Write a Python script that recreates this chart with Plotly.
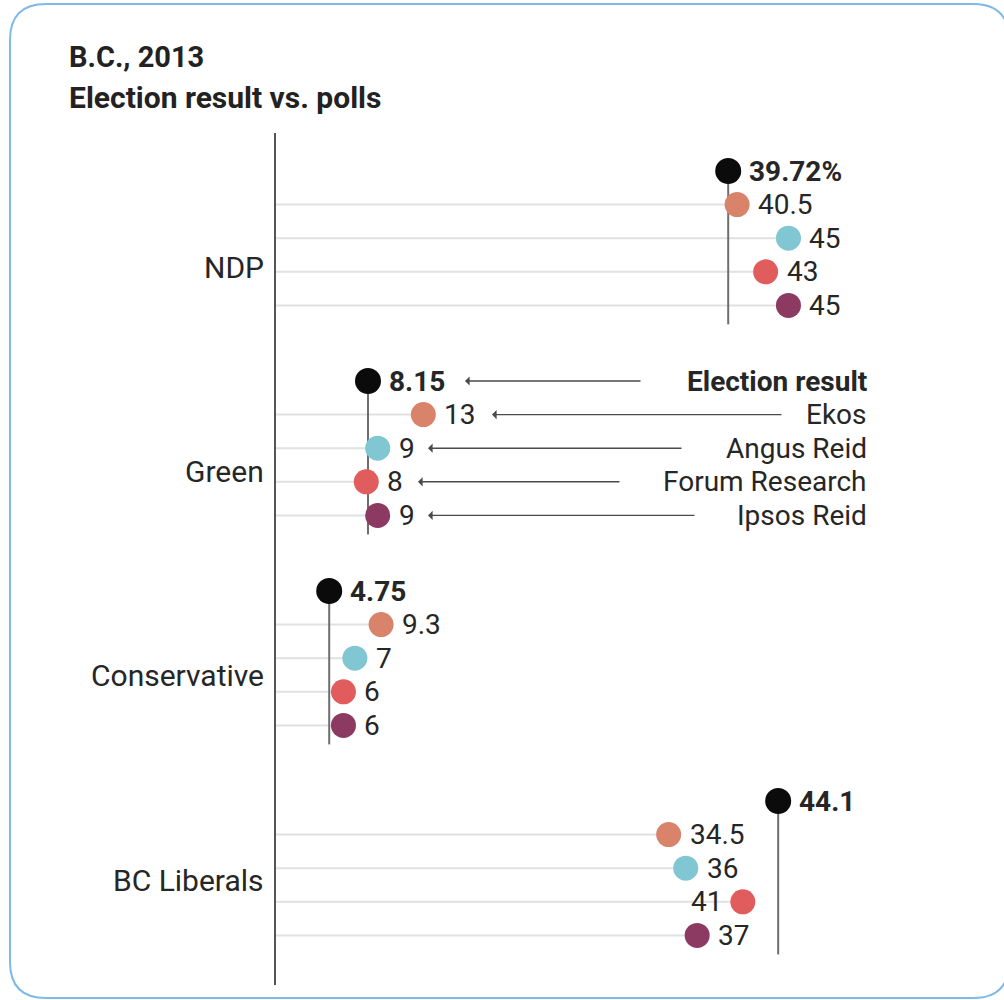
import plotly.graph_objects as go

# ---- data -------------------------------------------------------------
parties = ["NDP", "Green", "Conservative", "BC Liberals"]
series_names = ["Election result", "Ekos", "Angus Reid", "Forum Research", "Ipsos Reid"]

election = [39.72, 8.15, 4.75, 44.1]
ekos = [40.5, 13, 9.3, 34.5]
angus_reid = [45, 9, 7, 36]
forum_research = [43, 8, 6, 41]
ipsos_reid = [45, 9, 6, 37]

# ---- styling / layout constants ----------------------------------------
W, H = 1004, 1000
PX_PER_PCT = 11.41
ZERO_PX = 275
TOP = 171
GROUP_STEP = 210
ROW_STEP = 33.6
FONT = "Roboto"
TXT = "#262626"

colors = ["#0b0b0b", "#d9846a", "#80c6d3", "#e15c5c", "#8c3a62"]
series = [election, ekos, angus_reid, forum_research, ipsos_reid]


def row_y(g, r):
    return TOP + GROUP_STEP * g + ROW_STEP * r


def px(x):
    return x / W


def py(y):
    return 1 - y / H


fig = go.Figure()

# light guide lines from the axis to each poll dot
gx, gy = [], []
for r in range(1, 5):
    for g in range(len(parties)):
        gx += [0, series[r][g], None]
        gy += [row_y(g, r), row_y(g, r), None]
fig.add_trace(go.Scatter(x=gx, y=gy, mode="lines",
                         line=dict(color="#e1e1e1", width=2),
                         hoverinfo="skip", showlegend=False))

# vertical reference line at the election result of each party
vx, vy = [], []
for g in range(len(parties)):
    vx += [election[g], election[g], None]
    vy += [row_y(g, 0), row_y(g, 4) + 19, None]
fig.add_trace(go.Scatter(x=vx, y=vy, mode="lines",
                         line=dict(color="#6e6e6e", width=2),
                         hoverinfo="skip", showlegend=False))

# dots
for r, (name, vals) in enumerate(zip(series_names, series)):
    fig.add_trace(go.Scatter(
        x=vals, y=[row_y(g, r) for g in range(len(parties))],
        mode="markers", name=name,
        marker=dict(color=colors[r], size=26 if r == 0 else 25, line=dict(width=0)),
        showlegend=False))

annotations = []

# value labels next to the dots
for r, vals in enumerate(series):
    for g, v in enumerate(vals):
        label = f"{v:g}" + ("%" if (r == 0 and g == 0) else "")
        # the BC Liberals Forum dot sits against the result line, label goes left
        left = (g == 3 and r == 3)
        annotations.append(dict(
            x=v, y=row_y(g, r), xref="x", yref="y",
            text=f"<b>{label}</b>" if r == 0 else label,
            showarrow=False, borderpad=0,
            xanchor="right" if left else "left", yanchor="middle",
            xshift=-20 if left else 20, yshift=0,
            font=dict(family=FONT, size=28, color=TXT)))

# party names on the left of the axis
party_label_y = [267, 471, 675, 880]
for name, yy in zip(parties, party_label_y):
    annotations.append(dict(
        x=px(265), y=py(yy), xref="paper", yref="paper", text=name,
        showarrow=False, borderpad=0, xanchor="right", yanchor="middle",
        font=dict(family=FONT, size=30, color=TXT)))

# series key, drawn beside the Green group
arrow_heads = [465, 492, 428, 418, 428]
arrow_tails = [642, 783, 683, 621, 696]
for r, name in enumerate(series_names):
    yy = row_y(1, r)
    annotations.append(dict(
        x=px(868), y=py(yy), xref="paper", yref="paper",
        text=f"<b>{name}</b>" if r == 0 else name,
        showarrow=False, borderpad=0, xanchor="right", yanchor="middle",
        font=dict(family=FONT, size=28, color=TXT)))
    annotations.append(dict(
        x=px(arrow_heads[r]), y=py(yy), xref="paper", yref="paper",
        text="", showarrow=True, axref="pixel", ayref="pixel",
        ax=arrow_tails[r] - arrow_heads[r], ay=0,
        arrowhead=1, arrowsize=1.1, arrowwidth=1.4, arrowcolor="#4a4a4a",
        standoff=0, startstandoff=0))

# title
annotations.append(dict(
    x=px(68), y=py(57), xref="paper", yref="paper", text="<b>B.C., 2013</b>",
    showarrow=False, borderpad=0, xanchor="left", yanchor="middle",
    font=dict(family=FONT, size=29, color="#222222")))
annotations.append(dict(
    x=px(68), y=py(98), xref="paper", yref="paper",
    text="<b>Election result vs. polls</b>",
    showarrow=False, borderpad=0, xanchor="left", yanchor="middle",
    font=dict(family=FONT, size=30, color="#222222")))

shapes = []

# main vertical axis at 0 %
shapes.append(dict(type="line", xref="x", yref="y", x0=0, x1=0, y0=133, y1=985,
                   line=dict(color="#555555", width=2)))

# rounded frame
L, T, R, B, rad = 10, 4, 1009, 998, 36
path = (f"M {px(L + rad)},{py(T)} L {px(R - rad)},{py(T)} "
        f"Q {px(R)},{py(T)} {px(R)},{py(T + rad)} "
        f"L {px(R)},{py(B - rad)} Q {px(R)},{py(B)} {px(R - rad)},{py(B)} "
        f"L {px(L + rad)},{py(B)} Q {px(L)},{py(B)} {px(L)},{py(B - rad)} "
        f"L {px(L)},{py(T + rad)} Q {px(L)},{py(T)} {px(L + rad)},{py(T)} Z")
shapes.append(dict(type="path", xref="paper", yref="paper", path=path,
                   line=dict(color="#7fb9e8", width=2), layer="above"))

fig.update_layout(
    width=W, height=H,
    margin=dict(l=0, r=0, t=0, b=0),
    paper_bgcolor="white", plot_bgcolor="rgba(0,0,0,0)",
    xaxis=dict(range=[-ZERO_PX / PX_PER_PCT, (W - ZERO_PX) / PX_PER_PCT],
               visible=False, fixedrange=True),
    yaxis=dict(range=[H, 0], visible=False, fixedrange=True),
    annotations=annotations, shapes=shapes,
    showlegend=False,
)

fig.write_html("out.html")
